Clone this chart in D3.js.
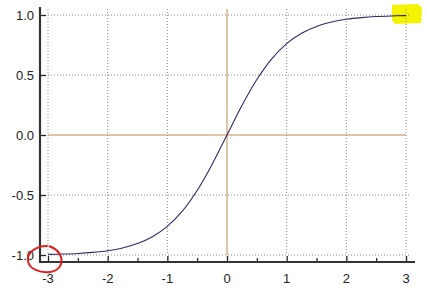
<!DOCTYPE html>
<html><head><meta charset="utf-8">
<script src="https://cdn.jsdelivr.net/npm/d3@7"></script>
<style>body{margin:0;background:#fff}svg{display:block}text{font-family:"Liberation Sans",Arial,sans-serif}</style>
</head><body>
<svg id="c" width="427" height="293"></svg>
<script>
const xs = [-3,-2.75,-2.5,-2.25,-2,-1.75,-1.5,-1.25,-1,-0.75,-0.5,-0.25,0,0.25,0.5,0.75,1,1.25,1.5,1.75,2,2.25,2.5,2.75,3];
const ys = [-0.995,-0.992,-0.987,-0.978,-0.964,-0.941,-0.905,-0.848,-0.762,-0.635,-0.462,-0.245,0,0.245,0.462,0.635,0.762,0.848,0.905,0.941,0.964,0.978,0.987,0.992,0.995];
const xTicks = [-3,-2,-1,0,1,2,3];
const xMinor = [-2.5,-1.5,-0.5,0.5,1.5,2.5];
const yTicks = [1.0,0.5,0.0,-0.5,-1.0];
const yLabels = ["1.0","0.5","0.0","-0.5","-1.0"];

const svg = d3.select("#c");
const x = d3.scaleLinear().domain([-3,3]).range([48,406]);
const y = d3.scaleLinear().domain([-1,1]).range([255,15]);
const gridTop = 9, gridRight = 411, axX = 40, axY = 262;

// highlighter
svg.append("path").attr("d","M392,5 L418,4 L422,8 L421,23 L395,24 L392,20 Z").attr("fill","#f4f400");

// grid
const g = svg.append("g");
xTicks.filter(v=>v!==0).forEach(v=>{
  g.append("line").attr("x1",x(v)).attr("x2",x(v)).attr("y1",gridTop).attr("y2",y(-1))
   .attr("stroke","#8a8a8a").attr("stroke-dasharray","1,2");
});
yTicks.filter(v=>v!==0).forEach(v=>{
  g.append("line").attr("x1",x(-3)).attr("x2",gridRight).attr("y1",y(v)).attr("y2",y(v))
   .attr("stroke","#8a8a8a").attr("stroke-dasharray","1,2");
});
// zero lines
g.append("line").attr("x1",x(0)).attr("x2",x(0)).attr("y1",gridTop).attr("y2",y(-1)).attr("stroke","#c08a4c");
g.append("line").attr("x1",x(-3)).attr("x2",x(3)).attr("y1",y(0)).attr("y2",y(0)).attr("stroke","#c08a4c");

// curve
const line = d3.line().x(d=>x(d[0])).y(d=>y(d[1])).curve(d3.curveCatmullRom);
svg.append("path").datum(xs.map((v,i)=>[v,ys[i]])).attr("d",line)
  .attr("fill","none").attr("stroke","#2c2c66").attr("stroke-width",1.1);

// axes
const yAxis = d3.axisRight(y).tickValues(yTicks).tickSize(6).tickFormat("");
const ya = svg.append("g").attr("transform",`translate(${axX},0)`).call(yAxis);
ya.select(".domain").remove();
ya.selectAll(".tick line").attr("stroke","#222").attr("stroke-width",1.3);
svg.append("line").attr("x1",axX).attr("x2",axX).attr("y1",7).attr("y2",axY+1).attr("stroke","#333").attr("stroke-width",2.2);

const xAxis = d3.axisTop(x).tickValues(xTicks).tickSize(6).tickFormat("");
const xa = svg.append("g").attr("transform",`translate(0,${axY})`).call(xAxis);
xa.select(".domain").remove();
xa.selectAll(".tick line").attr("stroke","#222").attr("stroke-width",1.3);
const xm = svg.append("g").attr("transform",`translate(0,${axY})`).call(d3.axisTop(x).tickValues(xMinor).tickSize(4).tickFormat(""));
xm.select(".domain").remove();
xm.selectAll(".tick line").attr("stroke","#222").attr("stroke-width",1.2);
svg.append("line").attr("x1",axX-1).attr("x2",415).attr("y1",axY).attr("y2",axY).attr("stroke","#333").attr("stroke-width",2.2);

// labels
yTicks.forEach((v,i)=>{
  svg.append("text").attr("x",34).attr("y",y(v)+4.5).attr("text-anchor","end")
   .attr("font-size",13).attr("fill","#222").text(yLabels[i]);
});
xTicks.forEach(v=>{
  svg.append("text").attr("x",x(v)).attr("y",283).attr("text-anchor","middle")
   .attr("font-size",13).attr("fill","#222").text(String(v));
});

// red hand-drawn circle
svg.append("path").attr("d","M47,246 C35,246 27,253 28,261 C29,269 40,273 50,272 C59,271 63,264 61,257 C59,251 55,248 49,246 L55,249")
  .attr("fill","none").attr("stroke","#e02020").attr("stroke-width",2).attr("stroke-linecap","round");
</script>
</body></html>
